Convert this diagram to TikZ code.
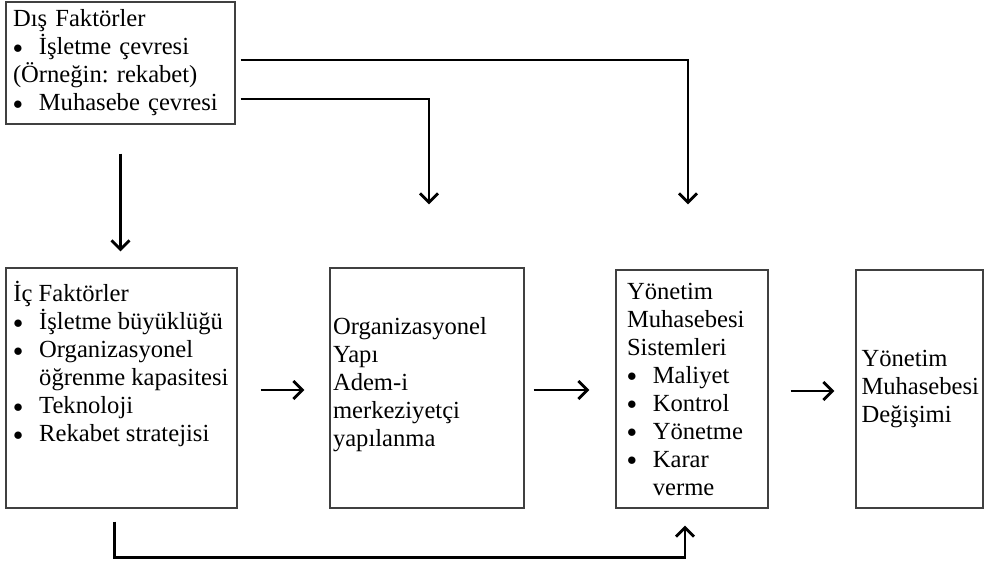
\documentclass[tikz,border=0pt]{standalone}
\usepackage{fontspec}
\setmainfont{Liberation Serif}
\usepackage{tikz}
\usetikzlibrary{arrows.meta}
\frenchspacing
\newcommand{\bul}{\makebox[1.05em][l]{\raisebox{0.7pt}{\scalebox{0.8}{$\bullet$}}}}
\newcommand{\bulsp}{\hspace*{1.05em}}

\begin{document}
\begin{tikzpicture}[x=0.5pt, y=-0.5pt,
  every node/.style={font=\fontsize{12.3}{14}\selectfont},
  box/.style={draw=black!75, line width=0.6pt, align=left, inner xsep=0pt,
              inner ysep=2pt},
  ar/.style={-{Straight Barb[length=4.5pt,width=9pt]}, line width=1.4pt}]
  \useasboundingbox (0,0) rectangle (995,564);
  \node[box, minimum width=114.5pt, minimum height=61pt, text width=107.5pt]
    (ext) at (120.5,63)
    {D\i\c{s} Faktörler\\ \bul İşletme çevresi\\ (Örneğin: rekabet)\\
     \bul Muhasebe çevresi};
  \node[box, minimum width=115.5pt, minimum height=120pt] (inf) at (121.5,388) {};
  \node[anchor=north west, inner sep=0pt, align=left] (inft) at (13,281)
    {İç Faktörler\\ \bul İşletme büyüklüğü\\ \bul Organizasyonel\\
     \bulsp öğrenme kapasitesi\\ \bul Teknoloji\\ \bul Rekabet stratejisi};
  \node[box, minimum width=97pt, minimum height=120pt, text width=94pt]
    (org) at (427,388)
    {\\[-9pt]Organizasyonel\\ Yapı\\ Adem-i\\ merkeziyetçi\\ yapılanma};
  \node[box, minimum width=76pt, minimum height=119pt, text width=65pt]
    (yms) at (692,389)
    {Yönetim\\ Muhasebesi\\ Sistemleri\\ \bul Maliyet\\ \bul Kontrol\\
     \bul Yönetme\\ \bul Karar\\ \bulsp verme};
  \node[box, minimum width=63.5pt, minimum height=119pt, text width=58pt]
    (deg) at (919.5,389)
    {Yönetim\\ Muhasebesi\\ Değişimi};
  % top feedback lines
  \draw[ar, shorten <=14.5pt, shorten >=8pt] (ext.south) -- (ext.south |- inf.north);
  \draw[ar, shorten >=32.5pt] ([xshift=2.5pt,yshift=1.5pt]ext.east)
    -| ([xshift=-2pt]yms.north);
  \draw[ar, shorten >=31.5pt] ([xshift=2.5pt,yshift=-18pt]ext.east)
    -| ([xshift=1pt]org.north);
  % main chain
  \draw[ar, shorten <=11.5pt, shorten >=12.5pt] ([yshift=-1pt]inf.east)
    -- ([yshift=-1pt]inf.east -| org.west);
  \draw[ar, shorten <=4.5pt, shorten >=13pt] ([yshift=-1pt]org.east)
    -- ([yshift=-1pt]org.east -| yms.west);
  \draw[ar, shorten <=11pt, shorten >=10.5pt] ([yshift=-1pt]yms.east)
    -- ([yshift=-1pt]yms.east -| deg.west);
  \draw[ar, shorten >=8.5pt] ([xshift=-3.5pt,yshift=-6.5pt]inf.south)
    -- ++(0,36) -| ([xshift=-3.5pt]yms.south);
\end{tikzpicture}
\end{document}
